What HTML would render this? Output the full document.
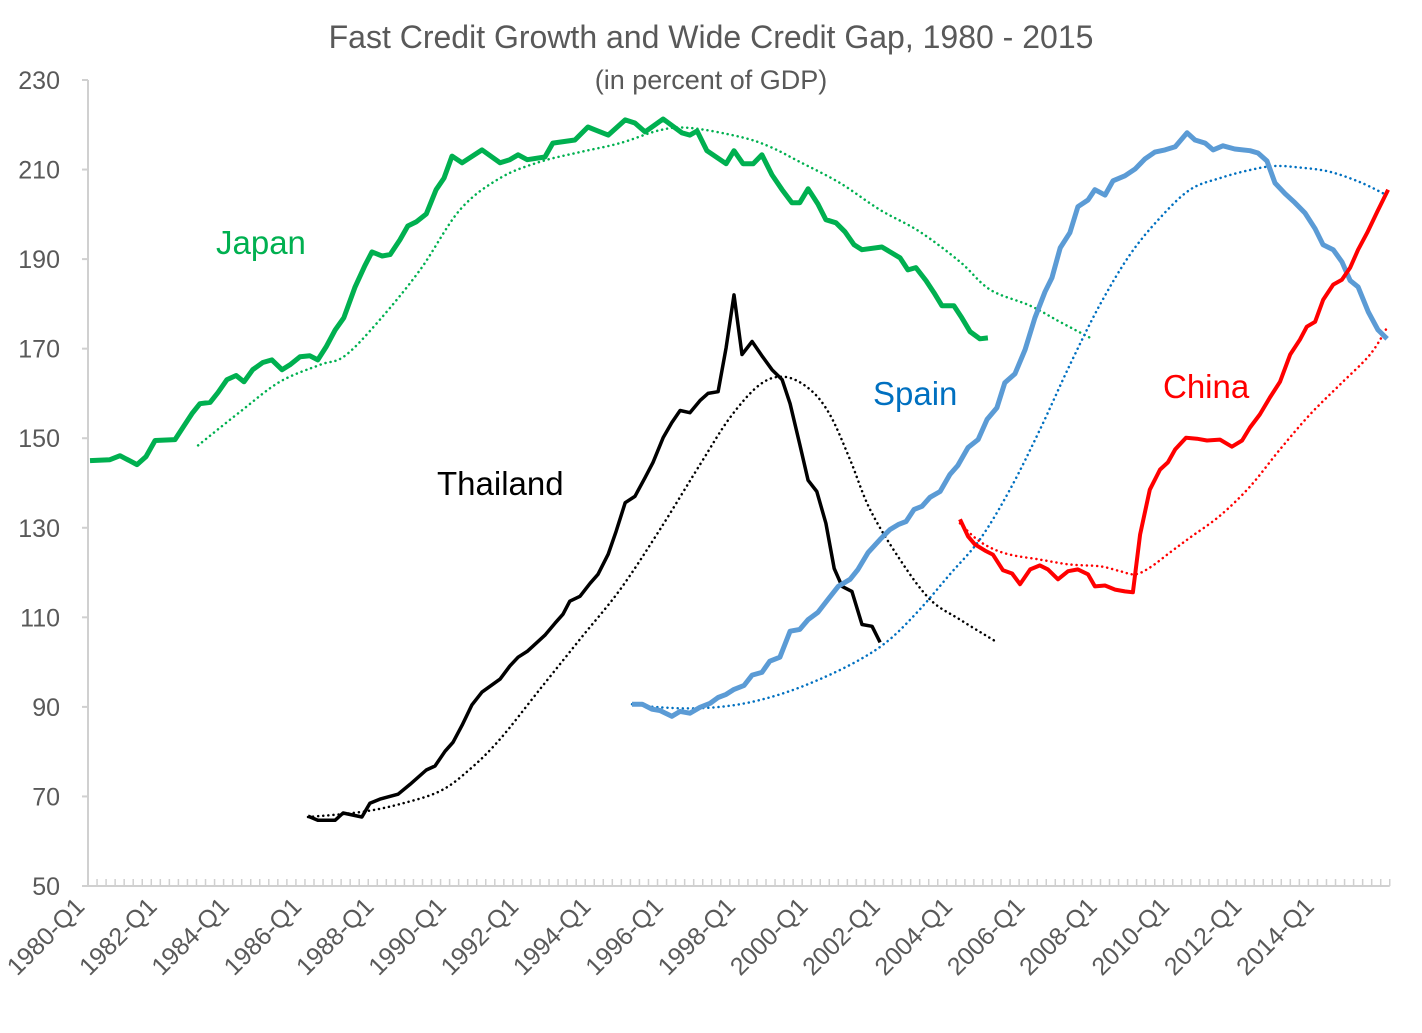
<!DOCTYPE html>
<html><head><meta charset="utf-8"><style>
html,body{margin:0;padding:0;background:#fff;}
svg{display:block;font-family:"Liberation Sans",Arial,sans-serif;}
</style></head><body>
<svg id="chart" width="1422" height="1033" viewBox="0 0 1422 1033" xmlns="http://www.w3.org/2000/svg">
<text x="711" y="48" text-anchor="middle" font-size="32" fill="#595959">Fast Credit Growth and Wide Credit Gap, 1980 - 2015</text>
<text x="711" y="89" text-anchor="middle" font-size="27" fill="#595959">(in percent of GDP)</text>
<g id="axes"></g>
<g id="series"></g>
<text x="216" y="254" font-size="33" fill="#00b050">Japan</text>
<text x="437" y="495" font-size="33" fill="#000">Thailand</text>
<text x="873" y="405" font-size="33" fill="#0070c0">Spain</text>
<text x="1163" y="398" font-size="33" fill="#ff0000">China</text>
</svg>
<script>
const yTicks=[50,70,90,110,130,150,170,190,210,230];
const xTickYears=[1980,1982,1984,1986,1988,1990,1992,1994,1996,1998,2000,2002,2004,2006,2008,2010,2012,2014];
const japanYears=[1980.0,1980.55,1980.83,1981.3,1981.55,1981.8,1982.35,1982.57,1982.82,1983.04,1983.32,1983.54,1983.79,1984.04,1984.26,1984.5,1984.78,1985.03,1985.31,1985.53,1985.81,1986.08,1986.3,1986.53,1986.78,1987.02,1987.33,1987.6,1987.8,1988.08,1988.3,1988.57,1988.79,1989.02,1989.3,1989.57,1989.79,1990.01,1990.29,1990.84,1991.34,1991.61,1991.84,1992.09,1992.58,1992.8,1993.41,1993.77,1994.33,1994.8,1995.07,1995.35,1995.85,1996.37,1996.59,1996.79,1997.06,1997.59,1997.81,1998.06,1998.34,1998.58,1998.86,1999.14,1999.41,1999.63,1999.86,2000.13,2000.35,2000.63,2000.88,2001.13,2001.35,2001.9,2002.4,2002.62,2002.84,2003.12,2003.34,2003.56,2003.89,2004.11,2004.34,2004.61,2004.83];
const japanValues=[145.0,145.2,146.1,144.1,145.9,149.5,149.7,152.4,155.5,157.7,158.0,160.2,163.1,164.0,162.6,165.3,166.9,167.5,165.3,166.4,168.2,168.4,167.5,170.4,174.2,176.9,183.8,188.5,191.6,190.7,191.0,194.3,197.4,198.3,200.1,205.5,208.1,213.0,211.5,214.4,211.5,212.2,213.3,212.2,212.8,215.9,216.6,219.5,217.7,221.1,220.4,218.4,221.3,218.2,217.7,218.6,214.2,211.3,214.2,211.3,211.3,213.3,208.8,205.5,202.6,202.6,205.7,202.3,198.8,198.1,196.1,193.2,192.1,192.7,190.3,187.6,188.1,185.2,182.5,179.6,179.6,176.9,173.8,172.2,172.4];
const japanTrendYears=[1982.99,1984.15,1985.25,1986.36,1987.05,1988.02,1989.13,1990.23,1991.34,1992.44,1993.55,1994.66,1995.76,1996.59,1997.98,1998.8,1999.63,2000.74,2001.85,2002.95,2004.06,2004.89,2006.0,2006.82,2007.71];
const japanTrendValues=[148.4,155.9,162.6,166.4,168.4,176.5,187.6,201.0,208.1,211.7,213.9,215.9,218.8,219.3,217.3,215.1,211.7,207.0,201.0,196.1,189.4,183.2,179.6,176.0,172.2];
const thaiYears=[1986.03,1986.3,1986.78,1987.0,1987.52,1987.74,1988.02,1988.52,1988.85,1989.3,1989.54,1989.82,1990.04,1990.29,1990.56,1990.84,1991.34,1991.61,1991.84,1992.09,1992.58,1992.86,1993.08,1993.27,1993.55,1993.83,1994.05,1994.33,1994.55,1994.8,1995.07,1995.35,1995.57,1995.85,1996.09,1996.32,1996.59,1996.87,1997.09,1997.37,1997.59,1997.81,1998.03,1998.31,1998.58,1998.86,1999.14,1999.36,1999.63,1999.86,2000.1,2000.35,2000.58,2000.8,2001.07,2001.35,2001.63,2001.85];
const thaiValues=[65.6,64.7,64.7,66.3,65.4,68.5,69.4,70.5,72.7,75.9,76.8,80.1,82.1,85.9,90.4,93.3,96.2,99.1,101.1,102.4,106.0,108.7,110.7,113.6,114.7,117.6,119.6,124.1,129.2,135.6,137.0,141.2,144.6,150.1,153.5,156.2,155.7,158.4,160.0,160.4,170.2,182.0,168.7,171.6,168.4,165.3,163.1,157.7,148.6,140.6,138.1,131.0,120.9,116.9,115.8,108.4,108.0,104.4];
const thaiTrendYears=[1986.03,1987.47,1988.57,1989.68,1990.51,1991.34,1992.44,1993.55,1994.66,1995.76,1996.87,1997.7,1998.53,1999.22,1999.91,2000.46,2001.02,2001.57,2002.4,2003.23,2004.06,2005.05];
const thaiTrendValues=[65.4,66.5,68.3,71.2,76.1,82.8,93.9,105.1,116.2,129.6,144.1,154.6,162.0,163.7,160.9,155.3,145.2,134.1,122.9,114.0,109.5,104.6];
const spainYears=[1994.99,1995.27,1995.54,1995.76,1996.09,1996.32,1996.59,1996.87,1997.15,1997.37,1997.59,1997.81,1998.09,1998.31,1998.58,1998.8,1999.08,1999.36,1999.63,1999.86,2000.13,2000.41,2000.69,2001.02,2001.24,2001.52,2001.85,2002.12,2002.35,2002.57,2002.79,2003.01,2003.23,2003.51,2003.78,2004.0,2004.28,2004.56,2004.81,2005.08,2005.3,2005.58,2005.86,2006.13,2006.41,2006.6,2006.83,2007.1,2007.32,2007.6,2007.79,2008.07,2008.29,2008.62,2008.9,2009.18,2009.45,2009.73,2010.01,2010.34,2010.56,2010.84,2011.06,2011.33,2011.66,2012.08,2012.3,2012.55,2012.77,2013.05,2013.32,2013.6,2013.88,2014.1,2014.38,2014.62,2014.85,2015.07,2015.35,2015.62,2015.87];
const spainValues=[90.6,90.6,89.5,89.2,87.9,89.0,88.6,89.9,90.8,92.1,92.8,93.9,94.8,97.1,97.7,100.2,101.1,106.9,107.3,109.5,111.1,114.0,116.9,118.5,120.7,124.5,127.4,129.6,130.7,131.4,134.1,134.8,136.8,138.1,141.9,143.9,147.9,149.7,154.2,156.8,162.4,164.4,169.8,176.9,182.7,185.8,192.5,195.9,201.7,203.2,205.5,204.3,207.5,208.6,210.1,212.4,213.9,214.4,215.1,218.2,216.6,215.9,214.4,215.3,214.6,214.2,213.7,211.9,207.0,204.6,202.6,200.3,196.8,193.2,192.1,189.4,185.2,183.8,178.2,174.2,172.2];
const spainTrendYears=[1994.99,1995.76,1996.87,1997.98,1999.08,2000.19,2001.3,2002.12,2002.95,2003.78,2004.61,2005.44,2006.27,2007.1,2007.93,2008.76,2009.59,2010.42,2011.25,2012.08,2012.77,2013.52,2014.29,2015.12,2015.81];
const spainTrendValues=[90.6,89.9,89.7,90.6,92.8,96.2,100.6,105.1,111.8,119.6,127.4,138.5,151.9,166.4,179.8,191.0,199.2,205.5,208.1,209.9,210.8,210.4,209.5,207.2,204.5];
const chinaYears=[2004.06,2004.28,2004.47,2004.75,2004.97,2005.25,2005.5,2005.72,2006.0,2006.27,2006.49,2006.77,2007.05,2007.32,2007.6,2007.79,2008.07,2008.35,2008.62,2008.84,2009.04,2009.31,2009.59,2009.81,2010.01,2010.31,2010.61,2010.89,2011.25,2011.58,2011.86,2012.08,2012.35,2012.63,2012.91,2013.19,2013.46,2013.65,2013.88,2014.1,2014.38,2014.62,2014.85,2015.07,2015.32,2015.6,2015.9];
const chinaValues=[131.9,128.1,126.3,124.9,124.0,120.5,119.8,117.4,120.7,121.6,120.7,118.5,120.3,120.7,119.6,116.9,117.1,116.2,115.8,115.6,128.5,138.5,143.0,144.6,147.5,150.1,149.9,149.5,149.7,148.1,149.5,152.4,155.3,159.1,162.6,168.7,172.0,174.9,176.0,180.9,184.3,185.4,188.1,192.1,195.9,200.6,205.5];
const chinaTrendYears=[2004.06,2004.47,2004.89,2005.44,2006.27,2007.1,2007.93,2008.49,2008.9,2009.31,2009.87,2010.42,2011.25,2012.08,2012.91,2013.74,2014.57,2015.4,2015.9];
const chinaTrendValues=[131.0,127.8,125.6,124.0,122.9,121.8,121.4,120.3,119.6,121.1,124.5,127.8,132.7,139.2,147.5,155.3,162.0,168.7,175.1];

const NS='http://www.w3.org/2000/svg';
const X0=88,Y0=886,YTOP=80,QW=9.04;
function xScale(yr){return 90+(yr-1980)*QW*4;}
function yScale(v){return Y0-(v-50)/(230-50)*(Y0-YTOP);}
function mk(tag,attrs,parent){const e=document.createElementNS(NS,tag);for(const k in attrs)e.setAttribute(k,attrs[k]);parent.appendChild(e);return e;}
const axes=document.getElementById('axes');
const yl=mk('line',{x1:X0,y1:YTOP,x2:X0,y2:Y0,stroke:'#d0d0d0','stroke-width':2},axes);


const xl=mk('line',{x1:X0,y1:Y0,x2:X0+144*QW,y2:Y0,stroke:'#d0d0d0','stroke-width':2},axes);


yTicks.forEach(v=>{
  const y=yScale(v);
  const t=mk('line',{x1:X0-6,y1:y,x2:X0,y2:y,stroke:'#d0d0d0','stroke-width':2},axes);
  
  
  const lb=mk('text',{x:60,y:y+9,'text-anchor':'end','font-size':25,fill:'#595959'},axes);
  lb.textContent=v;
  
  
});
for(let k=0;k<=144;k++){
  const x=X0+k*QW;
  const t=mk('line',{x1:x,y1:Y0-7,x2:x,y2:Y0,stroke:'#d0d0d0','stroke-width':1.5},axes);
  
  
}
xTickYears.forEach(yr=>{
  const x=X0+(yr-1980)*4*QW;
  const lb=mk('text',{x:x-2,y:908,'text-anchor':'end','font-size':25,fill:'#595959',transform:'rotate(-45 '+(x-2)+' 908)'},axes);
  lb.textContent=yr+'-Q1';
  
  
});
const sg=document.getElementById('series');
function smoothPath(pts){
  let d='M'+pts[0][0].toFixed(1)+' '+pts[0][1].toFixed(1);
  for(let i=0;i<pts.length-1;i++){
    const p0=pts[Math.max(0,i-1)],p1=pts[i],p2=pts[i+1],p3=pts[Math.min(pts.length-1,i+2)];
    const c1=[p1[0]+(p2[0]-p0[0])/6,p1[1]+(p2[1]-p0[1])/6];
    const c2=[p2[0]-(p3[0]-p1[0])/6,p2[1]-(p3[1]-p1[1])/6];
    d+=' C'+c1[0].toFixed(1)+' '+c1[1].toFixed(1)+' '+c2[0].toFixed(1)+' '+c2[1].toFixed(1)+' '+p2[0].toFixed(1)+' '+p2[1].toFixed(1);
  }
  return d;
}
function line(xs,vs,color,w,dash,name){
  const pts=xs.map((yr,i)=>[xScale(yr),yScale(vs[i])]);
  const d=dash?smoothPath(pts):pts.map((p,i)=>(i?'L':'M')+p[0].toFixed(1)+' '+p[1].toFixed(1)).join(' ');
  const a={d:d,fill:'none',stroke:color,'stroke-width':w,'stroke-linejoin':'round','stroke-linecap':dash?'round':'butt'};
  if(dash)a['stroke-dasharray']=dash;
  const p=mk('path',a,sg);
  
  
}
line(japanTrendYears,japanTrendValues,'#00b050',2.5,'0.1 5','japan-trend-line');
line(thaiTrendYears,thaiTrendValues,'#000',2.5,'0.1 5','thailand-trend-line');
line(spainTrendYears,spainTrendValues,'#0070c0',2.5,'0.1 5','spain-trend-line');
line(chinaTrendYears,chinaTrendValues,'#ff0000',2.5,'0.1 5','china-trend-line');
line(japanYears,japanValues,'#00b050',5,null,'japan-credit-line');
line(thaiYears,thaiValues,'#000',3.5,null,'thailand-credit-line');
line(spainYears,spainValues,'#5b9bd5',5,null,'spain-credit-line');
line(chinaYears,chinaValues,'#ff0000',4,null,'china-credit-line');
</script>
</body></html>
